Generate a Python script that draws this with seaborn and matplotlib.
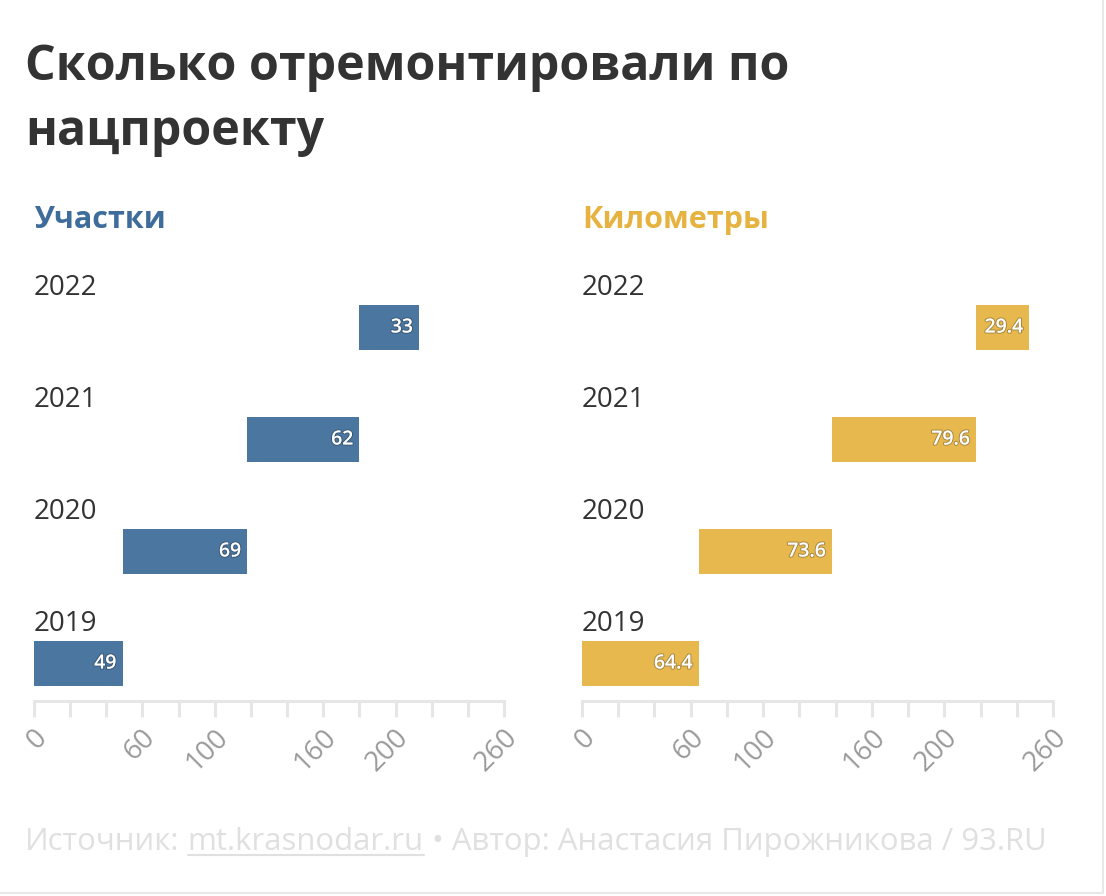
import numpy as np
import pandas as pd
import matplotlib
matplotlib.use("Agg")
import matplotlib.pyplot as plt
import matplotlib.patheffects as pe
import matplotlib.transforms as mtransforms
from matplotlib.lines import Line2D
import seaborn as sns

# data
years = ["2019", "2020", "2021", "2022"]
sections = [49, 69, 62, 33]          # Участки
kilometers = [64.4, 73.6, 79.6, 29.4]  # Километры
tick_values = list(range(0, 261, 20))
shown_ticks = [0, 60, 100, 160, 200, 260]

title_lines = ["Сколько отремонтировали по", "нацпроекту"]
panel_titles = ["Участки", "Километры"]
footer_pre = "Источник:"
footer_link = "mt.krasnodar.ru"
footer_post = "• Автор: Анастасия Пирожникова / 93.RU"

BLUE = "#4a76a0"
BLUE_T = "#3f6d9b"
YELLOW = "#e6b84e"
YELLOW_T = "#e6b240"
DARK = "#333333"
FOOT = "#e0e0e0"

sns.set_theme(style="white")
plt.rcParams["font.family"] = ["Open Sans", "DejaVu Sans"]

W, H = 1106, 896
fig = plt.figure(figsize=(W / 100, H / 100), dpi=100)
fig.patch.set_facecolor("white")


def fx(px):
    return px / W


def fy(py):
    return 1 - py / H


# title
fig.text(fx(25), fy(80), title_lines[0], fontsize=34.8, fontweight="bold",
         color=DARK, va="baseline", ha="left")
fig.text(fx(25), fy(145), title_lines[1], fontsize=34.8, fontweight="bold",
         color=DARK, va="baseline", ha="left")

order = years[::-1]
axis_y = 701
top_px = 327.5 - 56
panels = [
    (sections, BLUE, BLUE_T, panel_titles[0], 34, 504, "{:.0f}"),
    (kilometers, YELLOW, YELLOW_T, panel_titles[1], 582, 1053, "{:.1f}"),
]

for values, color, tcolor, ptitle, x0, x1, fmt in panels:
    df = pd.DataFrame({"year": years, "value": values})
    df["start"] = np.cumsum(df["value"]) - df["value"]
    df = df.set_index("year").loc[order].reset_index()

    ax = fig.add_axes([fx(x0), fy(axis_y), (x1 - x0) / W, (axis_y - top_px) / H])
    sns.barplot(data=df, x="value", y="year", order=order, color=color,
                saturation=1, width=45 / 112, errorbar=None, linewidth=0,
                left=df["start"].values, ax=ax)
    ax.set_xlim(0, 260)
    ax.set_ylim(3 + (axis_y - 663.5) / 112, -0.5)
    ax.set_xlabel("")
    ax.set_ylabel("")
    ax.set_yticks([])
    for s in ["top", "left", "right"]:
        ax.spines[s].set_visible(False)
    ax.spines["bottom"].set_color("#e6e6e6")
    ax.spines["bottom"].set_linewidth(2.2)
    ax.set_xticks(tick_values)
    ax.set_xticklabels([str(t) if t in shown_ticks else "" for t in tick_values],
                       rotation=45, ha="right", va="center", rotation_mode="anchor",
                       color="#9a9a9a", fontsize=20)
    ax.tick_params(axis="x", bottom=True, length=11.5, width=2.2, color="#e6e6e6",
                   pad=12)
    off = mtransforms.ScaledTranslation(9 / 100, 0, fig.dpi_scale_trans)
    for lab in ax.get_xticklabels():
        lab.set_transform(lab.get_transform() + off)

    for i, row in df.iterrows():
        ax.text(0, i - 0.35, row["year"], ha="left", va="center", fontsize=20,
                color=DARK)
        ax.annotate(fmt.format(row["value"]), (row["start"] + row["value"], i),
                    xytext=(-6, 0), textcoords="offset pixels", ha="right",
                    va="center", color="white", fontsize=14, fontweight="semibold",
                    path_effects=[pe.withStroke(linewidth=1.5, foreground="#00000040")])

    fig.text(fx(x0), fy(228), ptitle, fontsize=22, fontweight="bold", color=tcolor,
             va="baseline", ha="left")

# footer, pieced together so the link can be underlined
renderer = fig.canvas.get_renderer()
space = 8
x = 25
for part, underline in [(footer_pre, False), (footer_link, True), (footer_post, False)]:
    t = fig.text(fx(x), fy(850), part, fontsize=22.4, color=FOOT, va="baseline",
                 ha="left")
    bb = t.get_window_extent(renderer)
    if underline:
        fig.add_artist(Line2D([fx(x), fx(x + bb.width)], [fy(855), fy(855)],
                              color=FOOT, lw=1.5))
    x += bb.width + space

# thin frame at bottom and right
fig.add_artist(Line2D([0, fx(1103)], [fy(893), fy(893)], color="#e8e8e8", lw=1.5))
fig.add_artist(Line2D([fx(1103), fx(1103)], [fy(893), 1], color="#e8e8e8", lw=1.5))

fig.savefig("out.png", dpi=100)
